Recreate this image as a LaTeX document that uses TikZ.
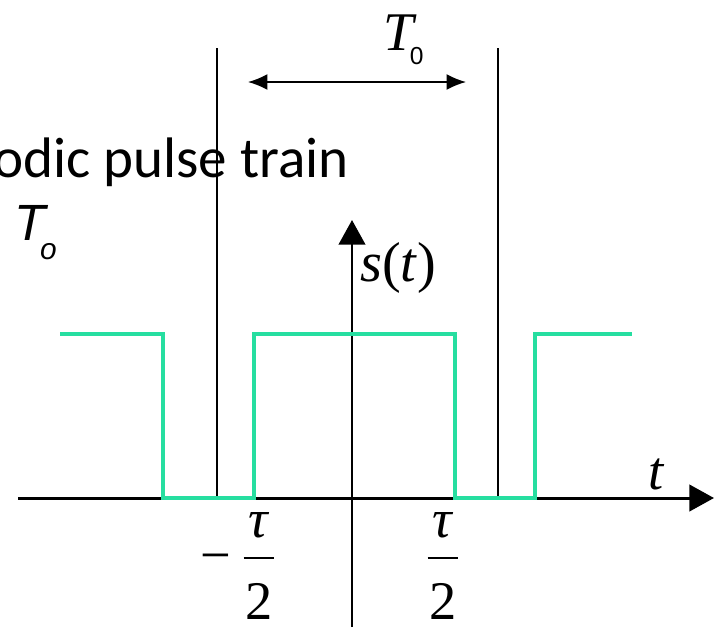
\documentclass[tikz,border=0pt]{standalone}
\usepackage{fontspec}
\setmainfont{Liberation Serif}
\newfontfamily\titlefont{Carlito}
\newfontfamily\labelfont{Liberation Sans}
\usetikzlibrary{arrows.meta,positioning}
\definecolor{pulsegreen}{RGB}{38,222,160}
\setlength{\arrayrulewidth}{1pt}
\newcommand{\tauhalf}{\raisebox{0pt}[\height][0pt]{\begin{tabular}{@{\kern1pt}c@{\kern1pt}}\textit{τ}\\\hline\rule{0pt}{34.5pt}2\end{tabular}}}

\begin{document}
\begin{tikzpicture}[x=0.02cm,y=-0.02cm,
  every node/.style={inner sep=0pt,font=\fontsize{31}{37}\selectfont},
  axis/.style={line width=1.7pt,-{Triangle[length=14pt,width=15pt]}},
  guide/.style={line width=1pt},
  period/.style={line width=0.9pt,{Latex[length=11pt,width=9pt]}-{Latex[length=11pt,width=9pt]}},
  pulse/.style={pulsegreen,line width=2.5pt}]
  \useasboundingbox (0,0) rectangle (714,627);
  % axes
  \coordinate (tstart) at (18,498);
  \coordinate (tend) at (714,498);
  \coordinate (sbottom) at (352,627);
  \coordinate (stop) at (352,220);
  \draw[axis] (tstart) -- (tend);
  \draw[axis] (sbottom) -- (stop);
  % one period
  \coordinate (ltop) at (217,48); \coordinate (lfoot) at (217,498);
  \coordinate (rtop) at (498,48); \coordinate (rfoot) at (498,498);
  \draw[guide] (ltop) -- (lfoot);
  \draw[guide] (rtop) -- (rfoot);
  \coordinate (pl) at (248,82); \coordinate (pr) at (466,82);
  \draw[period] (pl) -- (pr);
  % pulse train
  \draw[pulse] (60,334) -- (163,334) -- (163,498) -- (254,498) -- (254,334)
    -- (455,334) -- (455,498) -- (535,498) -- (535,334) -- (632,334);
  % labels
  \node (title) [anchor=base east,font=\titlefont\fontsize{32.5}{39}\selectfont] at (349,177) {odic pulse train};
  \node (To) [anchor=base west,font=\labelfont\itshape\fontsize{29}{35}\selectfont] at (14,240)
    {T\kern-3pt\raisebox{-11.3pt}{\fontsize{17}{20}\selectfont o}};
  \node (T0) [anchor=base west] at (383,50)
    {\textit{T}\kern-4pt\raisebox{-8.5pt}{\labelfont\fontsize{14}{17}\selectfont 0}};
  \node (s) [anchor=base west,font=\fontsize{32}{38}\selectfont] at (360,281) {\textit{s}(\textit{t})};
  \node (t) [anchor=base west] at (648,489) {\textit{t}};
  \node (minus) [anchor=base] at (216,573) {−};
  \node (left) [anchor=north] at (259,492) {\tauhalf};
  \node (right) [anchor=north] at (443,492) {\tauhalf};
\end{tikzpicture}
\end{document}
